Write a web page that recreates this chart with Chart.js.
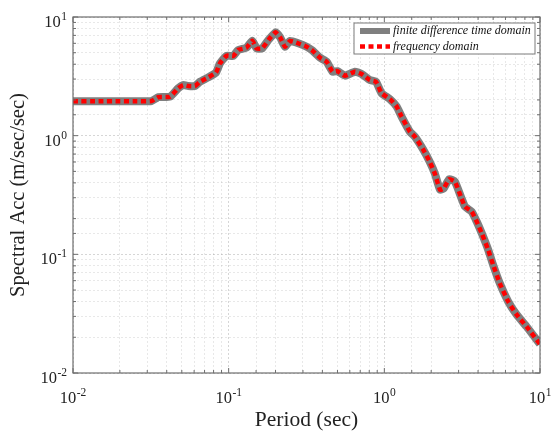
<!DOCTYPE html>
<html>
<head>
<meta charset="utf-8">
<script src="https://cdn.jsdelivr.net/npm/chart.js@4.4.0/dist/chart.umd.min.js"></script>
<style>
    html, body { margin: 0; padding: 0; background: #fff; }
    #wrap { width: 552px; height: 434px; }
</style>
</head>
<body>
<div id="wrap"><canvas id="spectrumChart" width="552" height="434"></canvas></div>
<script>
// Response spectrum values
const periods = [0.01, 0.015, 0.02, 0.025, 0.032, 0.0353, 0.042, 0.0474, 0.051, 0.055, 0.0608,
    0.0655, 0.074, 0.0829, 0.0879, 0.097, 0.107, 0.115, 0.13, 0.142, 0.151, 0.164, 0.18, 0.2,
    0.214, 0.23, 0.248, 0.28, 0.317, 0.346, 0.386, 0.426, 0.465, 0.499, 0.559, 0.647, 0.714,
    0.807, 0.883, 0.96, 1.087, 1.2, 1.29, 1.46, 1.57, 1.78, 1.96, 2.11, 2.28, 2.41, 2.61, 2.84,
    3.13, 3.3, 3.64, 3.92, 4.22, 4.65, 5.0, 5.52, 6.25, 7.08, 8.2, 10];
const fdtdAcc = [1.95, 1.95, 1.95, 1.95, 1.96, 2.11, 2.13, 2.51, 2.67, 2.62, 2.62,
    2.85, 3.1, 3.4, 4.07, 4.72, 4.69, 5.27, 5.51, 6.3, 5.44, 5.44, 6.4, 7.43,
    6.75, 5.62, 6.28, 6.0, 5.62, 5.2, 4.54, 4.2, 3.46, 3.5, 3.2, 3.46, 3.31,
    2.94, 2.85, 2.28, 2.03, 1.76, 1.45, 1.08, 0.98, 0.76, 0.6, 0.48, 0.35, 0.36, 0.43, 0.41,
    0.297, 0.252, 0.229, 0.189, 0.151, 0.109, 0.0814, 0.057, 0.04, 0.031, 0.0246, 0.0175];
const freqAcc = [1.95, 1.95, 1.95, 1.95, 1.96, 2.11, 2.13, 2.51, 2.67, 2.62, 2.62,
    2.85, 3.1, 3.4, 4.07, 4.72, 4.69, 5.27, 5.51, 6.3, 5.44, 5.44, 6.4, 7.43,
    6.75, 5.62, 6.28, 6.0, 5.62, 5.2, 4.54, 4.2, 3.46, 3.5, 3.2, 3.46, 3.31,
    2.94, 2.85, 2.28, 2.03, 1.76, 1.45, 1.08, 0.98, 0.76, 0.6, 0.48, 0.35, 0.36, 0.43, 0.41,
    0.297, 0.252, 0.229, 0.189, 0.151, 0.109, 0.0814, 0.057, 0.04, 0.031, 0.0246, 0.0175];
const seriesNames = ['finite difference time domain', 'frequency domain'];
const tickExponents = [-2, -1, 0, 1];
const axisMin = 0.01;
const axisMax = 10;

const serif = '"Liberation Serif", "Times New Roman", serif';

function isDecade(v) {
    const e = Math.log10(v);
    return Math.abs(e - Math.round(e)) < 1e-9;
}

function toPoints(ys) {
    return periods.map((p, i) => ({ x: p, y: ys[i] }));
}

// "10" with a raised exponent, anchored by its left edge and baseline
function drawPower(ctx, exp, x, y) {
    ctx.font = '16.5px ' + serif;
    ctx.fillText('10', x, y);
    const w = ctx.measureText('10').width;
    ctx.font = '11.5px ' + serif;
    ctx.fillText(String(exp), x + w + 0.5, y - 7);
}

function powerWidth(ctx, exp) {
    ctx.font = '16.5px ' + serif;
    const w = ctx.measureText('10').width;
    ctx.font = '11.5px ' + serif;
    return w + 0.5 + ctx.measureText(String(exp)).width;
}

// box round the plot, inner tick marks, decade labels and the legend
const framePlugin = {
    id: 'frame',
    afterDatasetsDraw(chart) {
        const { ctx, chartArea: a, scales } = chart;
        ctx.save();
        ctx.strokeStyle = '#6e6e6e';
        ctx.lineWidth = 1.2;
        ctx.strokeRect(a.left, a.top, a.right - a.left, a.bottom - a.top);

        ctx.lineWidth = 1;
        scales.x.ticks.forEach(t => {
            const px = scales.x.getPixelForValue(t.value);
            const len = isDecade(t.value) ? 5 : 3;
            ctx.beginPath();
            ctx.moveTo(px, a.bottom); ctx.lineTo(px, a.bottom - len);
            ctx.moveTo(px, a.top); ctx.lineTo(px, a.top + len);
            ctx.stroke();
        });
        scales.y.ticks.forEach(t => {
            const py = scales.y.getPixelForValue(t.value);
            const len = isDecade(t.value) ? 5 : 3;
            ctx.beginPath();
            ctx.moveTo(a.left, py); ctx.lineTo(a.left + len, py);
            ctx.moveTo(a.right, py); ctx.lineTo(a.right - len, py);
            ctx.stroke();
        });

        // tick labels
        ctx.fillStyle = '#222';
        ctx.textBaseline = 'alphabetic';
        ctx.textAlign = 'left';
        tickExponents.forEach(e => {
            const v = Math.pow(10, e);
            const w = powerWidth(ctx, e);
            const px = scales.x.getPixelForValue(v);
            drawPower(ctx, e, px - w / 2, a.bottom + 30);
            const py = scales.y.getPixelForValue(v);
            drawPower(ctx, e, a.left - 6 - w, py + 10);
        });

        // legend
        const boxW = 181, boxH = 31;
        const bx = a.right - boxW - 5, by = a.top + 6;
        ctx.fillStyle = '#fff';
        ctx.fillRect(bx, by, boxW, boxH);
        ctx.strokeStyle = '#7a7a7a';
        ctx.strokeRect(bx, by, boxW, boxH);

        chart.data.datasets.forEach((ds, i) => {
            const ly = by + 8 + i * 15.5;
            ctx.beginPath();
            ctx.strokeStyle = ds.borderColor;
            ctx.lineWidth = Math.min(ds.borderWidth, 6);
            ctx.setLineDash(ds.borderDash || []);
            ctx.moveTo(bx + 6, ly);
            ctx.lineTo(bx + 36, ly);
            ctx.stroke();
            ctx.setLineDash([]);
            ctx.fillStyle = '#111';
            ctx.font = 'italic 12px ' + serif;
            ctx.textBaseline = 'middle';
            ctx.fillText(ds.label, bx + 39, ly);
        });
        ctx.restore();
    }
};

function gridColor(c) {
    if (!c.tick) return 'rgba(0,0,0,0)';
    return isDecade(c.tick.value) ? 'rgba(0,0,0,0.16)' : 'rgba(0,0,0,0.09)';
}

const ctx = document.getElementById('spectrumChart');
new Chart(ctx, {
    type: 'line',
    data: {
        datasets: [
            {
                label: seriesNames[0],
                data: toPoints(fdtdAcc),
                borderColor: '#7f7f7f',
                borderWidth: 8,
                pointRadius: 0,
                tension: 0.15,
                order: 2
            },
            {
                label: seriesNames[1],
                data: toPoints(freqAcc),
                borderColor: '#ff0000',
                borderWidth: 4.5,
                borderDash: [5, 3.5],
                pointRadius: 0,
                tension: 0.15,
                order: 1
            }
        ]
    },
    options: {
        responsive: false,
        animation: false,
        layout: { padding: { top: 17, right: 12, left: 0, bottom: 0 } },
        plugins: {
            legend: { display: false },
            tooltip: { enabled: false }
        },
        scales: {
            x: {
                type: 'logarithmic',
                min: axisMin,
                max: axisMax,
                afterFit: (scale) => { scale.height = 61; },
                grid: { color: gridColor, drawTicks: false },
                border: { display: false, dash: [2, 2] },
                ticks: { autoSkip: false, display: false },
                title: {
                    display: true,
                    text: 'Period (sec)',
                    color: '#222',
                    font: { family: serif, size: 21.5 },
                    padding: { top: 2, bottom: 1 }
                }
            },
            y: {
                type: 'logarithmic',
                min: axisMin,
                max: axisMax,
                afterFit: (scale) => { scale.width = 73; },
                grid: { color: gridColor, drawTicks: false },
                border: { display: false, dash: [2, 2] },
                ticks: { autoSkip: false, display: false },
                title: {
                    display: true,
                    text: 'Spectral Acc (m/sec/sec)',
                    color: '#222',
                    font: { family: serif, size: 20.5 },
                    padding: 6
                }
            }
        }
    },
    plugins: [framePlugin]
});
</script>
</body>
</html>
